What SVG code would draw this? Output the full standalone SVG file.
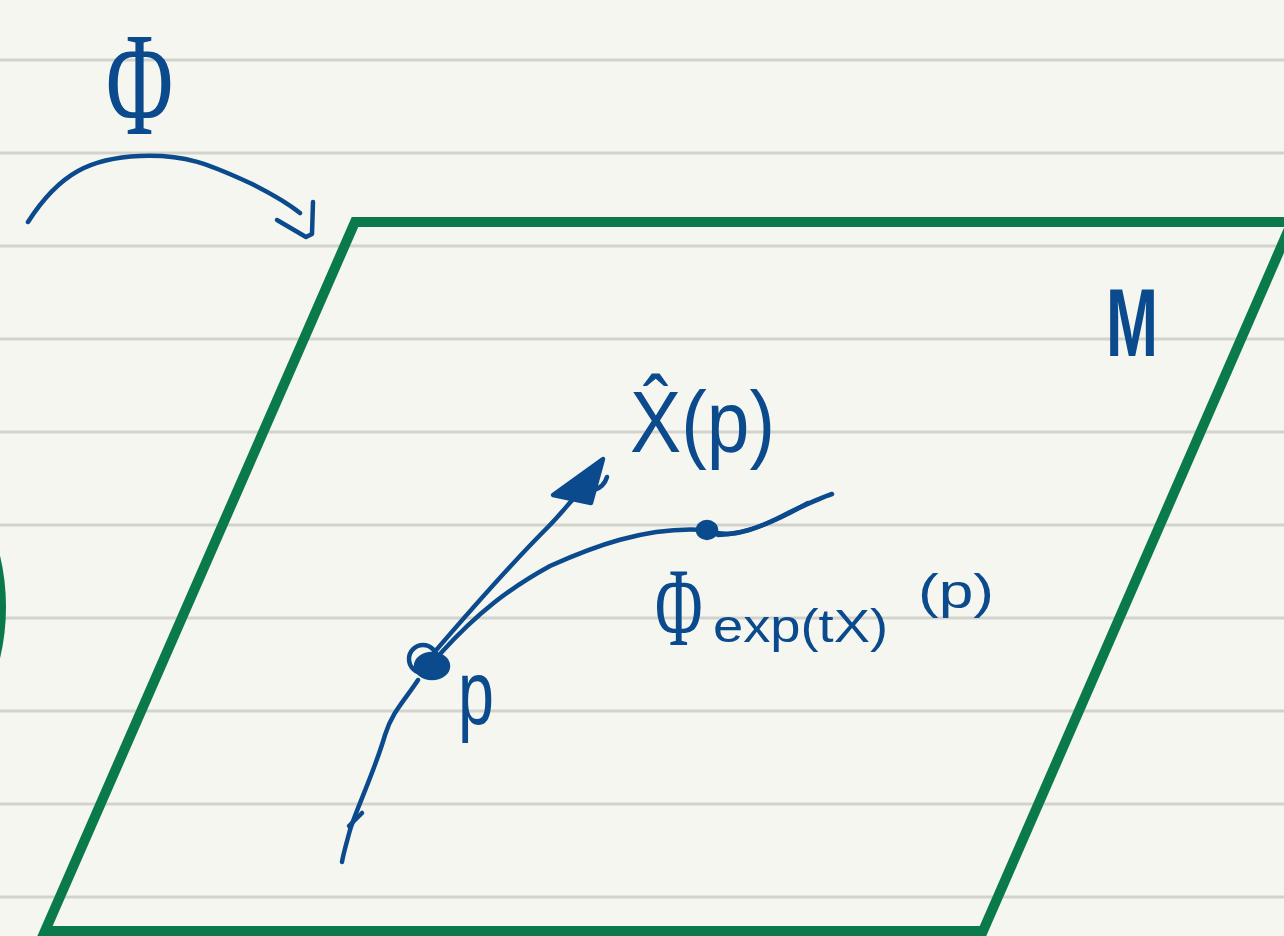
<svg xmlns="http://www.w3.org/2000/svg" width="1284" height="936" viewBox="0 0 1284 936">
<style>
.rule{stroke:#d3d3cd;stroke-width:3}
.green{fill:none;stroke:#0b7a4b;stroke-width:10}
.ink{fill:none;stroke:#0b4a8c;stroke-width:4.5;stroke-linecap:round;stroke-linejoin:round}
.inkfill{fill:#0b4a8c;stroke:#0b4a8c;stroke-width:4.5;stroke-linejoin:round}
.lbl{fill:#0b4a8c;font-family:"Liberation Sans","DejaVu Sans",sans-serif}
.phi{fill:#0b4a8c;font-family:"Liberation Serif","DejaVu Serif",serif}
</style>
<rect width="1284" height="936" fill="#f6f6f1"/>
<g id="ruled-lines">
<line class="rule" x1="0" y1="60" x2="1284" y2="60"/>
<line class="rule" x1="0" y1="153" x2="1284" y2="153"/>
<line class="rule" x1="0" y1="246" x2="1284" y2="246"/>
<line class="rule" x1="0" y1="339" x2="1284" y2="339"/>
<line class="rule" x1="0" y1="432" x2="1284" y2="432"/>
<line class="rule" x1="0" y1="525" x2="1284" y2="525"/>
<line class="rule" x1="0" y1="618" x2="1284" y2="618"/>
<line class="rule" x1="0" y1="711" x2="1284" y2="711"/>
<line class="rule" x1="0" y1="804" x2="1284" y2="804"/>
<line class="rule" x1="0" y1="897" x2="1284" y2="897"/>
</g>
<g id="left-shape">
<ellipse class="green" cx="-100" cy="607" rx="101" ry="150"/>
</g>
<g id="manifold-M">
<polygon class="green" points="355,222 1292,222 983,931 45,931" stroke-linejoin="miter"/>
<text class="lbl" x="1106" y="356" font-size="96" font-weight="bold" textLength="52" lengthAdjust="spacingAndGlyphs">M</text>
</g>
<g id="map-Phi">
<text class="phi" transform="translate(106,134) scale(0.62,1)" x="0" y="0" font-size="148">Φ</text>
<path class="ink" d="M28,222 C60,172 92,158 140,156 C188,154 212,166 250,183 C274,195 290,205 300,213"/>
<polyline class="ink" points="277,220 306,237 312,234 313,202"/>
</g>
<g id="connectors">
<path class="ink" d="M432,655 C468,613 515,560 548,527 C558,517 566,507 574,498"/>
<polygon class="inkfill" points="603,459 553,495 591,503"/>
<path class="ink" d="M607,477 Q604,487 594,490"/>
<path class="ink" d="M440,654 C478,612 510,588 550,566 C590,548 645,526 705,530"/>
<path class="ink" d="M712,532 C735,538 760,528 790,512 C805,505 820,498 832,494"/>
<path class="ink" d="M718,535 C745,535 775,522 808,503"/>
<path class="ink" d="M418,680 C405,700 392,712 385,735 C375,770 356,810 350,830 C346,845 343,855 342,862"/>
<path class="ink" d="M349,826 L362,813"/>
</g>
<g id="point-p">
<circle class="ink" cx="423" cy="659" r="14"/>
<ellipse class="inkfill" cx="432" cy="666" rx="16" ry="12"/>
<text class="lbl" x="458" y="724" font-size="90" textLength="36" lengthAdjust="spacingAndGlyphs">p</text>
</g>
<g id="point-flow">
<ellipse class="inkfill" cx="707" cy="530" rx="9" ry="8"/>
<text class="phi" transform="translate(655,645) scale(0.58,1)" x="0" y="0" font-size="112">Φ</text>
<text class="lbl" x="713" y="642" font-size="46" textLength="175" lengthAdjust="spacingAndGlyphs">exp(tX)</text>
<text class="lbl" x="918" y="608" font-size="48" textLength="76" lengthAdjust="spacingAndGlyphs">(p)</text>
</g>
<g id="vector-X">
<text class="lbl" x="630" y="452" font-size="88" textLength="145" lengthAdjust="spacingAndGlyphs" font-family="DejaVu Sans, sans-serif">X̂(p)</text>
</g>
</svg>
